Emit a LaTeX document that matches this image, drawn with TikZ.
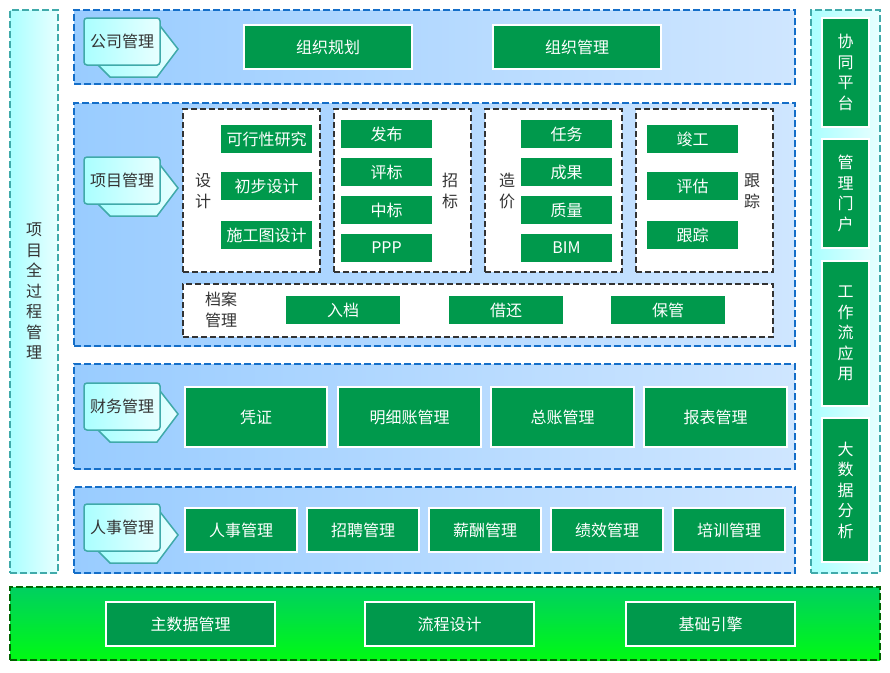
\documentclass[tikz,border=0pt]{standalone}
\usepackage{fontspec}
\setmainfont{Noto Sans CJK SC}
\definecolor{gfill}{RGB}{0,153,76}
\definecolor{bandL}{RGB}{153,204,255}
\definecolor{bandR}{RGB}{207,230,255}
\definecolor{bandB}{RGB}{20,110,200}
\definecolor{cyanL}{RGB}{170,255,255}
\definecolor{cyanR}{RGB}{232,255,255}
\definecolor{tealB}{RGB}{64,170,170}
\definecolor{botT}{RGB}{0,208,96}
\definecolor{botB}{RGB}{0,250,20}
\definecolor{botBorder}{RGB}{0,100,0}
\definecolor{txtgray}{RGB}{51,51,51}
\definecolor{dgray}{RGB}{51,51,51}
\tikzset{
  base/.style={inner sep=0pt, outer sep=0pt, font=\fontsize{16}{20.5}\selectfont, align=center},
  band/.style={base, draw=bandB, line width=1.5pt, dash pattern=on 7pt off 3pt, left color=bandL, right color=bandR},
  side/.style={base, draw=tealB, line width=1.5pt, dash pattern=on 7pt off 3pt, left color=cyanL, right color=cyanR, text=txtgray},
  bottomband/.style={base, draw=botBorder, line width=1.5pt, dash pattern=on 7pt off 3pt, top color=botT, bottom color=botB},
  grp/.style={base, draw=dgray, line width=1.5pt, dash pattern=on 6pt off 3pt, fill=white},
  gbox/.style={base, fill=gfill, draw=white, line width=1.5pt, text=white},
  tagfront/.style={base, draw=tealB, line width=1.5pt, rounded corners=3pt, left color=cyanL, right color=cyanR, text=txtgray},
  tagback/.style={draw=tealB, line width=1.5pt, left color=cyanL, right color=cyanR, line join=miter},
  lbl/.style={base, text=txtgray},
}
\newcommand\bx[7]{\node[#1, minimum width={(#5-#3)*1pt}, minimum height={(#6-#4)*1pt}] (#2) at ({(#3+#5)/2},{(#4+#6)/2}) {#7};}
\newcommand\mtag[4]{%
  \draw[tagback] ({#2+14},{#3+4}) -- ({#2+73},{#3+4}) -- ({#2+94},{#3+31}) -- ({#2+73},{#3+59}) -- ({#2+26},{#3+59}) -- ({#2+14},{#3+47}) -- cycle;
  \bx{tagfront}{#1}{#2}{#3}{#2+76}{#3+47}{#4}}
\begin{document}
\begin{tikzpicture}[x=1pt,y=-1pt]
\useasboundingbox (0,0) rectangle (890,672);
% side columns
\bx{side}{left}{10}{10}{58}{573}{项\\目\\全\\过\\程\\管\\理}
\bx{side}{right}{811}{10}{880}{573}{}
\bx{gbox}{r1}{822}{18}{869}{127}{协\\同\\平\\台}
\bx{gbox}{r2}{822}{139}{869}{248}{管\\理\\门\\户}
\bx{gbox}{r3}{822}{261}{869}{406}{工\\作\\流\\应\\用}
\bx{gbox}{r4}{822}{418}{869}{562}{大\\数\\据\\分\\析}
% company
\bx{band}{comp}{74}{10}{795}{84}{}
\mtag{tcomp}{84}{18}{公司管理}
\bx{gbox}{c1}{244}{25}{412}{69}{组织规划}
\bx{gbox}{c2}{493}{25}{661}{69}{组织管理}
% project
\bx{band}{proj}{74}{103}{795}{346}{}
\mtag{tproj}{84}{157}{项目管理}
\bx{grp}{g1}{183}{109}{320}{272}{}
\node[lbl] (g1l) at (203,191) {设\\计};
\bx{gbox}{d1}{220}{124}{313}{154}{可行性研究}
\bx{gbox}{d2}{220}{171}{313}{201}{初步设计}
\bx{gbox}{d3}{220}{220}{313}{250}{施工图设计}
\bx{grp}{g2}{334}{109}{471}{272}{}
\node[lbl] (g2l) at (450,191) {招\\标};
\bx{gbox}{z1}{340}{119}{433}{149}{发布}
\bx{gbox}{z2}{340}{157}{433}{187}{评标}
\bx{gbox}{z3}{340}{195}{433}{225}{中标}
\bx{gbox}{z4}{340}{233}{433}{263}{PPP}
\bx{grp}{g3}{485}{109}{622}{272}{}
\node[lbl] (g3l) at (507,191) {造\\价};
\bx{gbox}{p1}{520}{119}{613}{149}{任务}
\bx{gbox}{p2}{520}{157}{613}{187}{成果}
\bx{gbox}{p3}{520}{195}{613}{225}{质量}
\bx{gbox}{p4}{520}{233}{613}{263}{BIM}
\bx{grp}{g4}{636}{109}{773}{272}{}
\node[lbl] (g4l) at (752,191) {跟\\踪};
\bx{gbox}{k1}{646}{124}{739}{154}{竣工}
\bx{gbox}{k2}{646}{171}{739}{201}{评估}
\bx{gbox}{k3}{646}{220}{739}{250}{跟踪}
\bx{grp}{g5}{183}{284}{773}{337}{}
\node[lbl] (g5l) at (221,310) {档案\\管理};
\bx{gbox}{a1}{285}{295}{401}{325}{入档}
\bx{gbox}{a2}{448}{295}{564}{325}{借还}
\bx{gbox}{a3}{610}{295}{726}{325}{保管}
% finance
\bx{band}{fin}{74}{364}{795}{469}{}
\mtag{tfin}{84}{383}{财务管理}
\bx{gbox}{f1}{185}{387}{327}{447}{凭证}
\bx{gbox}{f2}{338}{387}{481}{447}{明细账管理}
\bx{gbox}{f3}{491}{387}{634}{447}{总账管理}
\bx{gbox}{f4}{644}{387}{787}{447}{报表管理}
% hr
\bx{band}{hr}{74}{487}{795}{573}{}
\mtag{thr}{84}{504}{人事管理}
\bx{gbox}{h1}{185}{508}{297}{552}{人事管理}
\bx{gbox}{h2}{307}{508}{419}{552}{招聘管理}
\bx{gbox}{h3}{429}{508}{541}{552}{薪酬管理}
\bx{gbox}{h4}{551}{508}{663}{552}{绩效管理}
\bx{gbox}{h5}{673}{508}{785}{552}{培训管理}
% bottom
\bx{bottomband}{base}{10}{587}{880}{660}{}
\bx{gbox}{b1}{106}{602}{275}{646}{主数据管理}
\bx{gbox}{b2}{365}{602}{534}{646}{流程设计}
\bx{gbox}{b3}{626}{602}{795}{646}{基础引擎}
\end{tikzpicture}
\end{document}
